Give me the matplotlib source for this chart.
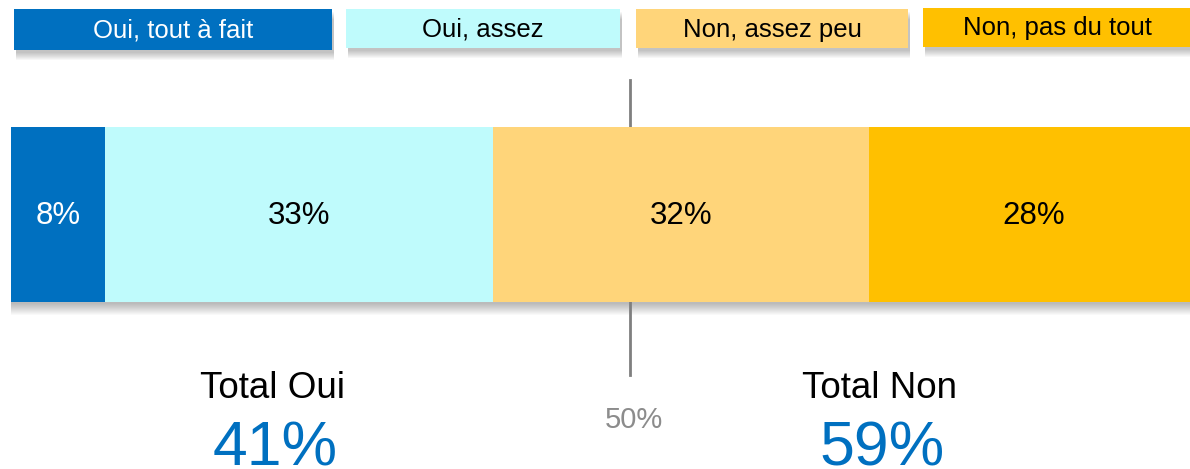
import matplotlib.pyplot as plt
from matplotlib.patches import Rectangle

plt.rcParams['font.family'] = ['Liberation Sans', 'DejaVu Sans']

# donnees
categories = ['Oui, tout à fait', 'Oui, assez', 'Non, assez peu', 'Non, pas du tout']
values = [8, 33, 32, 28]
colors = ['#0070C0', '#BFFBFC', '#FFD57A', '#FFC000']
label_colors = ['white', 'black', 'black', 'black']
totals_labels = ['Total Oui', 'Total Non']
totals_values = ['41%', '59%']
mid_label = '50%'
mid_pos = 52.7  # position du trait "50%" sur l'echelle de la barre

W, H = 1190, 469
fig = plt.figure(figsize=(W / 100, H / 100), dpi=100)

# axe de la barre : x en %, y en pixels
px_per = 11.75
x0 = 11
ax = fig.add_axes([0, 0, 1, 1])
ax.set_xlim(-x0 / px_per, (W - x0) / px_per)
ax.set_ylim(H, 0)
ax.axis('off')

bar_top, bar_h = 127, 175

# ombre sous la barre
total = sum(values)
for i in range(12):
    ax.add_patch(Rectangle((0, bar_top + 2 + i), total, bar_h, color='black',
                           alpha=0.025, lw=0, zorder=1))

left = 0
for v, c, tc in zip(values, colors, label_colors):
    ax.barh(bar_top + bar_h / 2, v, height=bar_h, left=left, color=c, zorder=3)
    ax.text(left + v / 2, bar_top + bar_h / 2 + 2, f'{v}%', ha='center', va='center',
            fontsize=22.5, color=tc, zorder=4)
    left += v

# trait 50%
ax.plot([mid_pos, mid_pos], [80, bar_top], color='#7F7F7F', lw=2, zorder=2)
ax.plot([mid_pos, mid_pos], [bar_top + bar_h, 375], color='#7F7F7F', lw=2, zorder=2)

# axe en pixels pour la legende et les totaux
lay = fig.add_axes([0, 0, 1, 1])
lay.set_xlim(0, W)
lay.set_ylim(H, 0)
lay.axis('off')

lay.text(634, 428, mid_label, ha='center', va='baseline', fontsize=21, color='#8C8C8C')

boxes = [(14, 332, 9, 50), (346, 620, 9, 48), (636, 908, 9, 48), (923, 1192, 8, 47)]
for (bx0, bx1, by0, by1), cat, c, tc in zip(boxes, categories, colors, label_colors):
    for i in range(8):
        lay.add_patch(Rectangle((bx0 + 2, by0 + 3 + i), bx1 - bx0, by1 - by0, color='black',
                                alpha=0.03, lw=0, zorder=1))
    lay.add_patch(Rectangle((bx0, by0), bx1 - bx0, by1 - by0, color=c, lw=0, zorder=3))
    lay.text((bx0 + bx1) / 2, (by0 + by1) / 2 + 1, cat, ha='center', va='center',
             fontsize=18.5, color=tc, zorder=4)

for x, lab, val in zip([272, 879], totals_labels, totals_values):
    lay.text(x, 398, lab, ha='center', va='baseline', fontsize=26.5, color='black')
    lay.text(x + 3, 465, val, ha='center', va='baseline', fontsize=45, color='#0070C0')

fig.savefig('out.png', dpi=100)
